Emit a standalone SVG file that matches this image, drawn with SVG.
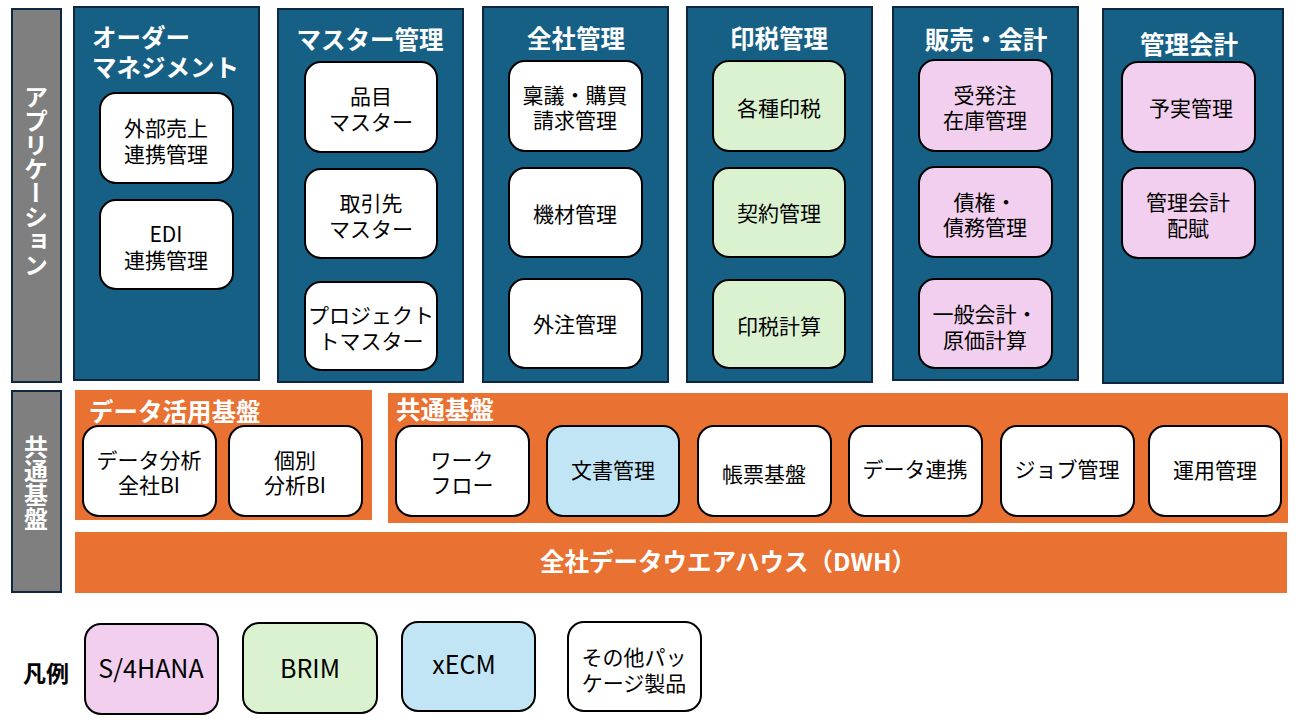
<svg xmlns="http://www.w3.org/2000/svg" width="1302" height="722" viewBox="0 0 1302 722">
<style>
text{font-family:"Noto Sans CJK JP","Noto Sans",sans-serif;dominant-baseline:central;text-anchor:middle}
.gray{fill:#7f7f7f;stroke:#0e2841;stroke-width:2}
.navy{fill:#176085;stroke:#0e2841;stroke-width:2}
.orange{fill:#e97132}
.box{stroke:#000;stroke-width:2}
.w{fill:#fff}.p{fill:#f2cfee}.g{fill:#daf2d0}.b{fill:#c2e5f5}
.t{font-size:21px;fill:#000}
.h{font-size:24.5px;font-weight:bold;fill:#fff}
.v{font-size:24px;font-weight:bold;fill:#fff;writing-mode:vertical-rl}
.l{font-size:25px;fill:#000}
</style>
<rect width="1302" height="722" fill="#fff"/>

<g id="layer-app">
<rect class="gray" x="12" y="9" width="49" height="373"/>
<text class="v" x="36" y="181">アプリケーション</text>
</g>
<g id="layer-common">
<rect class="gray" x="12" y="391" width="49" height="201"/>
<text class="v" x="36" y="483">共通基盤</text>
</g>

<g id="panel-order">
<rect class="navy" x="74" y="7" width="185" height="373"/>
<text class="h" style="text-anchor:start"><tspan x="92" y="36">オーダー</tspan><tspan x="92" y="66">マネジメント</tspan></text>
</g>
<g id="panel-master">
<rect class="navy" x="278" y="9" width="185" height="373"/>
<text class="h" x="370" y="38">マスター管理</text>
</g>
<g id="panel-corp">
<rect class="navy" x="483" y="7" width="185" height="375"/>
<text class="h" x="576" y="37">全社管理</text>
</g>
<g id="panel-royalty">
<rect class="navy" x="687" y="7" width="185" height="375"/>
<text class="h" x="779" y="37">印税管理</text>
</g>
<g id="panel-sales">
<rect class="navy" x="893" y="7" width="185" height="373"/>
<text class="h" x="986" y="38">販売・会計</text>
</g>
<g id="panel-mgmt">
<rect class="navy" x="1103" y="9" width="180" height="374"/>
<text class="h" x="1189" y="43">管理会計</text>
</g>

<g id="n-gaibu"><rect class="box w" x="100" y="93" width="133" height="90" rx="16"/><text class="t"><tspan x="166" y="127">外部売上</tspan><tspan x="166" y="153">連携管理</tspan></text></g>
<g id="n-edi"><rect class="box w" x="100" y="200" width="133" height="89" rx="16"/><text class="t"><tspan x="166" y="233">EDI</tspan><tspan x="166" y="259">連携管理</tspan></text></g>

<g id="n-hinmoku"><rect class="box w" x="305" y="62" width="132" height="90" rx="16"/><text class="t"><tspan x="371" y="95">品目</tspan><tspan x="371" y="121">マスター</tspan></text></g>
<g id="n-torihiki"><rect class="box w" x="305" y="169" width="132" height="89" rx="16"/><text class="t"><tspan x="371" y="202">取引先</tspan><tspan x="371" y="228">マスター</tspan></text></g>
<g id="n-project"><rect class="box w" x="305" y="282" width="132" height="88" rx="16"/><text class="t"><tspan x="371" y="314">プロジェクト</tspan><tspan x="371" y="340">トマスター</tspan></text></g>

<g id="n-ringi"><rect class="box w" x="509" y="61" width="133" height="90" rx="16"/><text class="t"><tspan x="575" y="94">稟議・購買</tspan><tspan x="575" y="119">請求管理</tspan></text></g>
<g id="n-kizai"><rect class="box w" x="509" y="168" width="133" height="89" rx="16"/><text class="t" x="575" y="213">機材管理</text></g>
<g id="n-gaichu"><rect class="box w" x="509" y="279" width="133" height="89" rx="16"/><text class="t" x="575" y="323">外注管理</text></g>

<g id="n-kakushu"><rect class="box g" x="713" y="61" width="132" height="90" rx="16"/><text class="t" x="779" y="107">各種印税</text></g>
<g id="n-keiyaku"><rect class="box g" x="713" y="168" width="132" height="89" rx="16"/><text class="t" x="779" y="212">契約管理</text></g>
<g id="n-inzei"><rect class="box g" x="713" y="280" width="132" height="88" rx="16"/><text class="t" x="779" y="325">印税計算</text></g>

<g id="n-juhacchu"><rect class="box p" x="919" y="60" width="133" height="91" rx="16"/><text class="t"><tspan x="985" y="94">受発注</tspan><tspan x="985" y="119">在庫管理</tspan></text></g>
<g id="n-saiken"><rect class="box p" x="919" y="167" width="133" height="90" rx="16"/><text class="t"><tspan x="985" y="201">債権・</tspan><tspan x="985" y="226">債務管理</tspan></text></g>
<g id="n-ippan"><rect class="box p" x="919" y="279" width="133" height="89" rx="16"/><text class="t"><tspan x="985" y="313">一般会計・</tspan><tspan x="985" y="339">原価計算</tspan></text></g>

<g id="n-yojitsu"><rect class="box p" x="1122" y="62" width="133" height="90" rx="16"/><text class="t" x="1191" y="107">予実管理</text></g>
<g id="n-haifu"><rect class="box p" x="1122" y="168" width="133" height="90" rx="16"/><text class="t"><tspan x="1188" y="201">管理会計</tspan><tspan x="1188" y="227">配賦</tspan></text></g>

<g id="panel-data">
<rect class="orange" x="75" y="390" width="297" height="130"/>
<text class="h" x="89" y="410" style="text-anchor:start">データ活用基盤</text>
</g>
<g id="panel-kyotsu">
<rect class="orange" x="388" y="393" width="900" height="130"/>
<text class="h" x="396" y="408" style="text-anchor:start">共通基盤</text>
</g>
<g id="n-dwh">
<rect class="orange" x="75" y="532" width="1212" height="61"/>
<text class="h" x="728" y="560">全社データウエアハウス（DWH）</text>
</g>

<g id="n-bunseki"><rect class="box w" x="83" y="426" width="133" height="90" rx="16"/><text class="t"><tspan x="149" y="459">データ分析</tspan><tspan x="149" y="484">全社BI</tspan></text></g>
<g id="n-kobetsu"><rect class="box w" x="229" y="426" width="133" height="90" rx="16"/><text class="t"><tspan x="295" y="459">個別</tspan><tspan x="295" y="484">分析BI</tspan></text></g>
<g id="n-workflow"><rect class="box w" x="396" y="426" width="133" height="90" rx="16"/><text class="t"><tspan x="462" y="459">ワーク</tspan><tspan x="462" y="484">フロー</tspan></text></g>
<g id="n-bunsho"><rect class="box b" x="547" y="426" width="132" height="90" rx="16"/><text class="t" x="613" y="469">文書管理</text></g>
<g id="n-chohyo"><rect class="box w" x="698" y="426" width="133" height="90" rx="16"/><text class="t" x="764" y="473">帳票基盤</text></g>
<g id="n-renkei"><rect class="box w" x="849" y="426" width="133" height="90" rx="16"/><text class="t" x="915" y="468">データ連携</text></g>
<g id="n-job"><rect class="box w" x="1001" y="426" width="133" height="90" rx="16"/><text class="t" x="1067" y="468">ジョブ管理</text></g>
<g id="n-unyo"><rect class="box w" x="1149" y="426" width="132" height="90" rx="16"/><text class="t" x="1215" y="469">運用管理</text></g>

<g id="legend">
<text x="46" y="672" style="font-size:23px;font-weight:bold;fill:#000">凡例</text>
<g id="lg-s4"><rect class="box p" x="85" y="624" width="133" height="90" rx="16"/><text class="l" x="151" y="667">S/4HANA</text></g>
<g id="lg-brim"><rect class="box g" x="243" y="623" width="134" height="90" rx="16"/><text class="l" x="310" y="667">BRIM</text></g>
<g id="lg-xecm"><rect class="box b" x="402" y="622" width="133" height="89" rx="16"/><text class="l" x="464" y="663">xECM</text></g>
<g id="lg-other"><rect class="box w" x="568" y="622" width="133" height="89" rx="16"/><text class="t"><tspan x="634" y="656">その他パッ</tspan><tspan x="634" y="682">ケージ製品</tspan></text></g>
</g>
<g id="connectors"></g>
</svg>
